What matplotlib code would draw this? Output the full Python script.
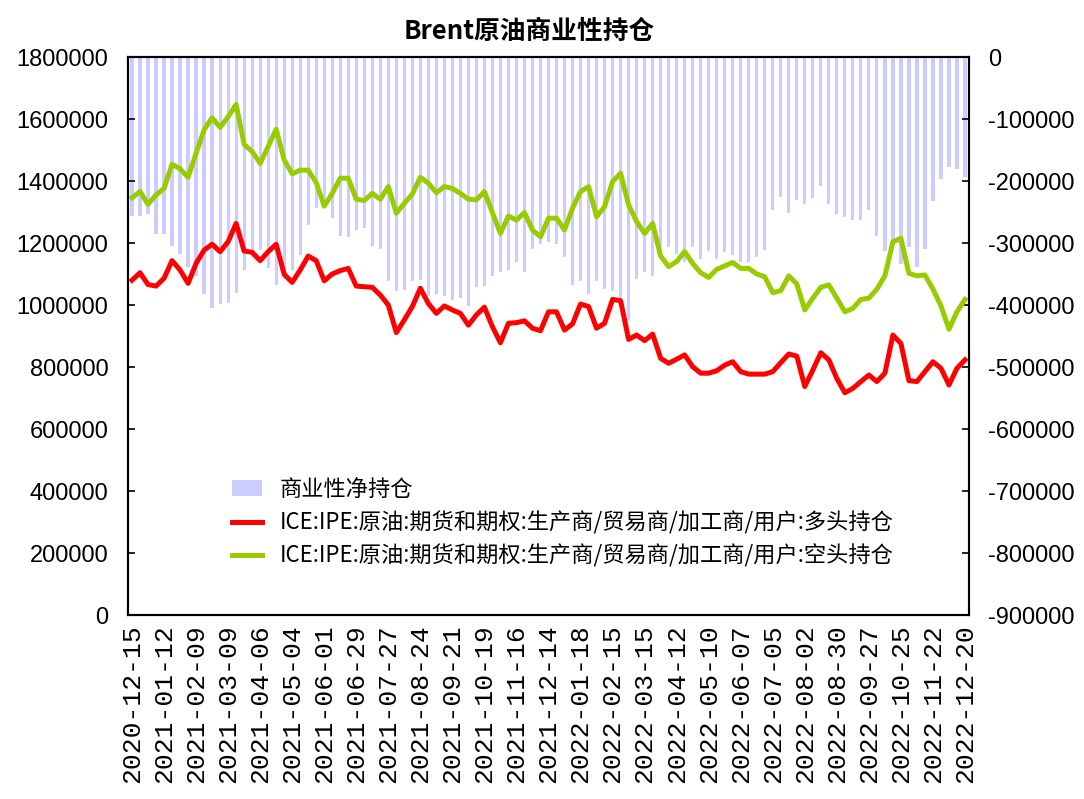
import numpy as np
import pandas as pd
import matplotlib
matplotlib.use("Agg")
import matplotlib.pyplot as plt
from matplotlib.patches import Patch
from matplotlib.lines import Line2D
from matplotlib.ticker import FuncFormatter

plt.rcParams["font.family"] = ["Liberation Sans", "Noto Sans CJK SC"]
plt.rcParams["axes.unicode_minus"] = False

# weekly dates, 2021-12-28 missing in the source
dates = [d for d in pd.date_range("2020-12-15", "2022-12-20", freq="7D")
         if d != pd.Timestamp("2021-12-28")]
date_labels = [d.strftime("%Y-%m-%d") for d in dates]

# 商业性净持仓 (right axis)
net_position = [
    -257000, -257000, -253000, -285000, -285000, -305000, -318000, -338000, -353000, -382000,
    -405000, -398000, -396000, -380000, -344000, -322000, -311000, -341000, -368000, -358000,
    -344000, -319000, -271000, -244000, -239000, -260000, -288000, -291000, -279000, -275000,
    -305000, -309000, -361000, -378000, -376000, -362000, -359000, -385000, -383000, -385000,
    -392000, -388000, -402000, -371000, -369000, -353000, -346000, -344000, -330000, -346000,
    -309000, -302000, -298000, -302000, -322000, -368000, -361000, -382000, -361000, -374000,
    -378000, -392000, -425000, -358000, -346000, -353000, -306000, -306000, -318000, -331000,
    -306000, -325000, -313000, -325000, -315000, -319000, -330000, -331000, -322000, -311000,
    -247000, -225000, -252000, -231000, -237000, -228000, -208000, -237000, -253000, -258000,
    -263000, -263000, -247000, -289000, -313000, -295000, -334000, -306000, -339000, -309000,
    -233000, -196000, -177000, -181000, -193000,
]

# 多头持仓 (thousands)
long_position = [
    1080, 1104, 1066, 1061, 1086, 1143, 1113, 1070, 1134, 1177,
    1196, 1172, 1204, 1263, 1174, 1170, 1143, 1172, 1196, 1099,
    1073, 1113, 1158, 1143, 1078, 1100, 1111, 1118, 1061, 1059,
    1057, 1032, 1000, 911, 952, 995, 1054, 1005, 973, 997,
    984, 973, 935, 968, 993, 930, 878, 941, 943, 949,
    925, 917, 978, 978, 919, 939, 1003, 995, 925, 941,
    1018, 1014, 889, 903, 885, 906, 828, 812, 825, 839,
    801, 780, 780, 788, 806, 817, 785, 777, 777, 777,
    785, 814, 842, 835, 737, 790, 846, 823, 763, 717,
    731, 753, 774, 753, 780, 903, 876, 756, 753, 785,
    817, 796, 742, 796, 823,
]

# 空头持仓 (thousands)
short_position = [
    1346, 1366, 1325, 1355, 1376, 1454, 1439, 1412, 1489, 1565,
    1604, 1573, 1607, 1647, 1518, 1495, 1457, 1511, 1567, 1468,
    1423, 1435, 1435, 1395, 1319, 1360, 1409, 1409, 1341, 1337,
    1360, 1341, 1382, 1296, 1328, 1358, 1412, 1393, 1362, 1382,
    1376, 1360, 1341, 1339, 1366, 1298, 1231, 1287, 1274, 1298,
    1242, 1220, 1280, 1280, 1242, 1312, 1366, 1382, 1285, 1317,
    1398, 1425, 1323, 1269, 1231, 1263, 1158, 1124, 1140, 1172,
    1134, 1104, 1089, 1115, 1126, 1137, 1118, 1118, 1100, 1091,
    1040, 1046, 1094, 1068, 984, 1022, 1057, 1065, 1022, 978,
    989, 1018, 1022, 1051, 1094, 1204, 1215, 1102, 1094, 1097,
    1051, 997, 922, 978, 1018,
]

label_bar = "商业性净持仓"
label_long = "ICE:IPE:原油:期货和期权:生产商/贸易商/加工商/用户:多头持仓"
label_short = "ICE:IPE:原油:期货和期权:生产商/贸易商/加工商/用户:空头持仓"

bar_color = "#CCCCFF"
red = "#FF0000"
green = "#99CC00"

x = np.arange(len(date_labels))
long_vals = np.array(long_position) * 1000
short_vals = np.array(short_position) * 1000

fig = plt.figure(figsize=(10.84, 7.99), dpi=100)
ax = fig.add_axes([128 / 1084, 1 - 615 / 799, 841 / 1084, 558 / 799])
ax2 = ax.twinx()

ax2.bar(x, net_position, width=0.4, color=bar_color, zorder=1)
ax2.set_ylim(-900000, 0)
ax2.set_yticks(np.arange(-900000, 1, 100000))

ax.plot(x, long_vals, color=red, lw=3.6, solid_joinstyle="round")
ax.plot(x, short_vals, color=green, lw=3.6, solid_joinstyle="round")
ax.set_ylim(0, 1800000)
ax.set_yticks(np.arange(0, 1800001, 200000))
ax.set_xlim(-0.5, len(x) - 0.5)
ax.set_zorder(ax2.get_zorder() + 1)
ax.patch.set_visible(False)

fmt = FuncFormatter(lambda v, p: f"{int(round(v))}")
ax.yaxis.set_major_formatter(fmt)
ax2.yaxis.set_major_formatter(fmt)

ax.set_xticks(x[::4])
ax.set_xticklabels(date_labels[::4], rotation=90, family="Liberation Mono", fontsize=19)
ax.tick_params(axis="x", length=0, pad=7)
ax.tick_params(axis="y", direction="in", length=5, width=1.2, pad=14, labelsize=17)
ax2.tick_params(axis="y", direction="in", length=5, width=1.2, pad=14, labelsize=17)

for a in (ax, ax2):
    for s in a.spines.values():
        s.set_linewidth(1.5)
        s.set_color("black")

fig.text(529 / 1084, 1 - 31 / 799, "Brent原油商业性持仓", ha="center", va="center",
         fontsize=18.5, fontweight="bold", family=["Noto Sans CJK SC"])

handles = [
    Patch(facecolor=bar_color, edgecolor="none"),
    Line2D([], [], color=red, lw=3.6),
    Line2D([], [], color=green, lw=3.6),
]
ax.legend(handles, [label_bar, label_long, label_short], loc="upper left",
          bbox_to_anchor=(232 / 1084, 1 - 478 / 799), bbox_transform=fig.transFigure,
          frameon=False, borderpad=0, borderaxespad=0, handlelength=1.35,
          handletextpad=0.8, labelspacing=0.45,
          prop={"family": ["Noto Sans CJK SC"], "size": 16})

fig.savefig("out.png", dpi=100)
